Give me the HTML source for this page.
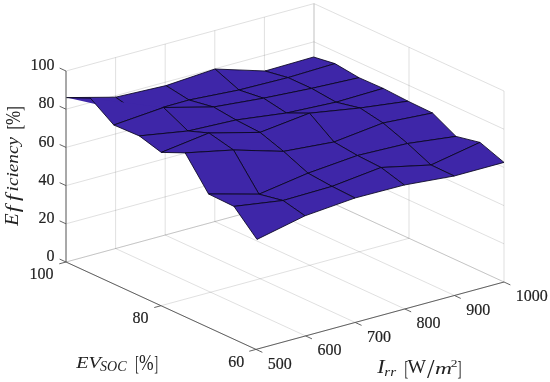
<!DOCTYPE html>
<html><head><meta charset="utf-8"><title>Efficiency surface</title>
<style>
html,body{margin:0;padding:0;background:#fff}
svg{display:block}
.g{stroke:#262626;stroke-opacity:.14;stroke-width:1;fill:none}
.a{stroke:#525252;stroke-width:.9;fill:none;stroke-linecap:butt}
.q{fill:#3e26a8;stroke:#0a0620;stroke-width:.85;stroke-linejoin:round}
.t{fill:#3e26a8;stroke:none}
.e{fill:none;stroke:#0a0620;stroke-width:.85;stroke-linejoin:round;stroke-linecap:round}
text{font-family:"Liberation Serif",serif;fill:#222;stroke:#222;stroke-width:.18}
.n{font-size:16.0px}
.r{text-anchor:end}
.i{font-style:italic}
.l{stroke:none}
</style></head><body>
<svg width="550" height="382" viewBox="0 0 550 382">
<rect width="550" height="382" fill="#fff"/>
<line x1="66.00" y1="262.00" x2="66.00" y2="71.00" class="g"/>
<line x1="256.00" y1="349.40" x2="66.00" y2="262.00" class="g"/>
<line x1="115.60" y1="248.52" x2="115.60" y2="57.52" class="g"/>
<line x1="305.60" y1="335.92" x2="115.60" y2="248.52" class="g"/>
<line x1="165.20" y1="235.04" x2="165.20" y2="44.04" class="g"/>
<line x1="355.20" y1="322.44" x2="165.20" y2="235.04" class="g"/>
<line x1="214.80" y1="221.56" x2="214.80" y2="30.56" class="g"/>
<line x1="404.80" y1="308.96" x2="214.80" y2="221.56" class="g"/>
<line x1="264.40" y1="208.08" x2="264.40" y2="17.08" class="g"/>
<line x1="454.40" y1="295.48" x2="264.40" y2="208.08" class="g"/>
<line x1="314.00" y1="194.60" x2="314.00" y2="3.60" class="g"/>
<line x1="504.00" y1="282.00" x2="314.00" y2="194.60" class="g"/>
<line x1="504.00" y1="282.00" x2="504.00" y2="91.00" class="g"/>
<line x1="256.00" y1="349.40" x2="504.00" y2="282.00" class="g"/>
<line x1="409.00" y1="238.30" x2="409.00" y2="47.30" class="g"/>
<line x1="161.00" y1="305.70" x2="409.00" y2="238.30" class="g"/>
<line x1="314.00" y1="194.60" x2="314.00" y2="3.60" class="g"/>
<line x1="66.00" y1="262.00" x2="314.00" y2="194.60" class="g"/>
<line x1="66.00" y1="262.00" x2="314.00" y2="194.60" class="g"/>
<line x1="314.00" y1="194.60" x2="504.00" y2="282.00" class="g"/>
<line x1="66.00" y1="223.80" x2="314.00" y2="156.40" class="g"/>
<line x1="314.00" y1="156.40" x2="504.00" y2="243.80" class="g"/>
<line x1="66.00" y1="185.60" x2="314.00" y2="118.20" class="g"/>
<line x1="314.00" y1="118.20" x2="504.00" y2="205.60" class="g"/>
<line x1="66.00" y1="147.40" x2="314.00" y2="80.00" class="g"/>
<line x1="314.00" y1="80.00" x2="504.00" y2="167.40" class="g"/>
<line x1="66.00" y1="109.20" x2="314.00" y2="41.80" class="g"/>
<line x1="314.00" y1="41.80" x2="504.00" y2="129.20" class="g"/>
<line x1="66.00" y1="71.00" x2="314.00" y2="3.60" class="g"/>
<line x1="314.00" y1="3.60" x2="504.00" y2="91.00" class="g"/>
<polygon points="265.00,71.00 313.60,57.00 334.90,63.60 288.00,77.60" class="q"/>
<polygon points="288.00,77.60 334.90,63.60 359.00,77.70 311.50,88.40" class="q"/>
<polygon points="311.50,88.40 359.00,77.70 383.20,88.40 336.00,102.20" class="q"/>
<polygon points="336.00,102.20 383.20,88.40 408.00,101.20 360.00,108.00" class="q"/>
<polygon points="360.00,108.00 408.00,101.20 432.50,113.00 383.00,123.00" class="q"/>
<polygon points="383.00,123.00 432.50,113.00 456.00,136.40 407.50,143.50" class="q"/>
<polygon points="407.50,143.50 456.00,136.40 480.00,142.40 431.00,165.00" class="q"/>
<polygon points="431.00,165.00 480.00,142.40 504.00,162.40 454.20,176.00" class="q"/>
<polygon points="215.00,69.00 265.00,71.00 288.00,77.60 239.00,90.00" class="q"/>
<polygon points="239.00,90.00 288.00,77.60 311.50,88.40 263.50,98.20" class="q"/>
<polygon points="263.50,98.20 311.50,88.40 336.00,102.20 286.50,113.00" class="q"/>
<polygon points="286.50,113.00 336.00,102.20 360.00,108.00 309.50,113.20" class="q"/>
<polygon points="309.50,113.20 360.00,108.00 383.00,123.00 334.00,142.00" class="q"/>
<polygon points="334.00,142.00 383.00,123.00 407.50,143.50 357.40,155.50" class="q"/>
<polygon points="357.40,155.50 407.50,143.50 431.00,165.00 381.00,167.50" class="q"/>
<polygon points="381.00,167.50 431.00,165.00 454.20,176.00 404.30,185.00" class="q"/>
<polygon points="166.00,85.60 215.00,69.00 239.00,90.00 189.00,100.00" class="q"/>
<polygon points="189.00,100.00 239.00,90.00 263.50,98.20 213.50,107.00" class="q"/>
<polygon points="213.50,107.00 263.50,98.20 286.50,113.00 236.00,120.00" class="q"/>
<polygon points="236.00,120.00 286.50,113.00 309.50,113.20 260.00,132.40" class="q"/>
<polygon points="260.00,132.40 309.50,113.20 334.00,142.00 283.50,151.40" class="q"/>
<polygon points="283.50,151.40 334.00,142.00 357.40,155.50 308.00,173.20" class="q"/>
<polygon points="308.00,173.20 357.40,155.50 381.00,167.50 332.00,186.40" class="q"/>
<polygon points="332.00,186.40 381.00,167.50 404.30,185.00 355.00,198.00" class="q"/>
<polygon points="115.60,97.20 166.00,85.60 189.00,100.00 139.35,114.00" class="q"/>
<polygon points="139.35,114.00 189.00,100.00 213.50,107.00 163.50,107.50" class="q"/>
<polygon points="163.50,107.50 213.50,107.00 236.00,120.00 188.00,131.00" class="q"/>
<polygon points="188.00,131.00 236.00,120.00 260.00,132.40 209.00,133.00" class="q"/>
<polygon points="209.00,133.00 260.00,132.40 283.50,151.40 233.50,150.00" class="q"/>
<polygon points="233.50,150.00 283.50,151.40 308.00,173.20 259.00,194.20" class="q"/>
<polygon points="259.00,194.20 308.00,173.20 332.00,186.40 283.00,200.50" class="q"/>
<polygon points="283.00,200.50 332.00,186.40 355.00,198.00 305.00,215.80" class="q"/>
<polygon points="66.40,97.60 115.60,97.20 139.35,114.00" class="t"/>
<polyline points="90.40,98.20 66.40,97.60 115.60,97.20 139.35,114.00" class="e"/>
<polygon points="90.40,98.20 163.50,107.50 113.80,125.00" class="t"/>
<polyline points="90.40,98.20 113.80,125.00 163.50,107.50" class="e"/>
<polygon points="113.80,125.00 163.50,107.50 188.00,131.00 139.30,135.90" class="q"/>
<polygon points="139.30,135.90 188.00,131.00 209.00,133.00 161.30,152.40" class="q"/>
<polygon points="161.30,152.40 209.00,133.00 233.50,150.00 185.20,152.90" class="q"/>
<polygon points="185.20,152.90 233.50,150.00 259.00,194.20 208.60,194.00" class="q"/>
<polygon points="208.60,194.00 259.00,194.20 283.00,200.50 234.00,206.40" class="q"/>
<polygon points="234.00,206.40 283.00,200.50 305.00,215.80 257.00,239.40" class="q"/>
<polyline points="66.00,71.00 66.00,262.00 256.00,349.40 504.00,282.00" class="a"/>
<line x1="256.00" y1="349.40" x2="262.36" y2="352.33" class="a"/>
<line x1="305.60" y1="335.92" x2="311.96" y2="338.85" class="a"/>
<line x1="355.20" y1="322.44" x2="361.56" y2="325.37" class="a"/>
<line x1="404.80" y1="308.96" x2="411.16" y2="311.89" class="a"/>
<line x1="454.40" y1="295.48" x2="460.76" y2="298.41" class="a"/>
<line x1="504.00" y1="282.00" x2="510.36" y2="284.93" class="a"/>
<line x1="256.00" y1="349.40" x2="249.25" y2="351.24" class="a"/>
<line x1="161.00" y1="305.70" x2="154.25" y2="307.54" class="a"/>
<line x1="66.00" y1="262.00" x2="59.25" y2="263.84" class="a"/>
<line x1="66.00" y1="262.00" x2="59.64" y2="259.07" class="a"/>
<line x1="66.00" y1="223.80" x2="59.64" y2="220.87" class="a"/>
<line x1="66.00" y1="185.60" x2="59.64" y2="182.67" class="a"/>
<line x1="66.00" y1="147.40" x2="59.64" y2="144.47" class="a"/>
<line x1="66.00" y1="109.20" x2="59.64" y2="106.27" class="a"/>
<line x1="66.00" y1="71.00" x2="59.64" y2="68.07" class="a"/>
<text x="267.8" y="368.7" class="n">500</text>
<text x="317.4" y="355.2" class="n">600</text>
<text x="367.0" y="341.7" class="n">700</text>
<text x="416.6" y="328.3" class="n">800</text>
<text x="466.2" y="314.8" class="n">900</text>
<text x="515.8" y="301.3" class="n">1000</text>
<text x="54.4" y="261.2" class="n r">0</text>
<text x="54.4" y="223.0" class="n r">20</text>
<text x="54.4" y="184.8" class="n r">40</text>
<text x="54.4" y="146.6" class="n r">60</text>
<text x="54.4" y="108.4" class="n r">80</text>
<text x="54.4" y="70.2" class="n r">100</text>
<text x="53.6" y="279.4" class="n r">100</text>
<text x="148.6" y="322.7" class="n r">80</text>
<text x="244.2" y="366.8" class="n r">60</text>
<text transform="translate(76.25,368.43) scale(1.130,1)" font-size="17.76" class="l i">EV</text>
<text transform="translate(100.02,371.36) scale(0.994,1)" font-size="14.13" class="l i">SOC</text>
<text transform="translate(135.19,370.06) scale(0.495,1)" font-size="21.81" class="l">[</text>
<text transform="translate(138.89,369.72) scale(0.776,1)" font-size="22.58" class="l">%</text>
<text transform="translate(154.20,370.06) scale(0.530,1)" font-size="21.81" class="l">]</text>
<text transform="translate(377.31,373.40) scale(1.235,1)" font-size="18.02" class="l i">I</text>
<text transform="translate(384.29,376.20) scale(1.212,1)" font-size="12.55" class="l i">rr</text>
<text transform="translate(404.46,375.06) scale(0.515,1)" font-size="21.81" class="l">[</text>
<text transform="translate(407.50,373.43) scale(1.087,1)" font-size="18.06" class="l">W</text>
<text transform="translate(426.90,377.73) scale(1.000,1)" font-size="27.01" class="l">/</text>
<text transform="translate(434.98,373.60) scale(1.384,1)" font-size="17.02" class="l i">m</text>
<text transform="translate(450.73,366.70) scale(1.218,1)" font-size="11.02" class="l">2</text>
<text transform="translate(457.38,375.06) scale(0.550,1)" font-size="21.81" class="l">]</text>
<text transform="translate(18.40,225.75) rotate(-90) scale(1.114,1)" font-size="18.17" class="l i">E</text>
<text transform="translate(18.70,212.24) rotate(-90) scale(1.331,1)" font-size="17.87" class="l i">f</text>
<text transform="translate(18.70,201.04) rotate(-90) scale(1.331,1)" font-size="17.87" class="l i">f</text>
<text transform="translate(18.40,191.46) rotate(-90) scale(1.167,1)" font-size="16.50" class="l i">iciency</text>
<text transform="translate(20.57,129.48) rotate(-90) scale(0.686,1)" font-size="20.96" class="l">[</text>
<text transform="translate(19.63,124.89) rotate(-90) scale(0.783,1)" font-size="21.70" class="l">%</text>
<text transform="translate(20.57,110.90) rotate(-90) scale(0.678,1)" font-size="20.96" class="l">]</text>
</svg>
</body></html>
